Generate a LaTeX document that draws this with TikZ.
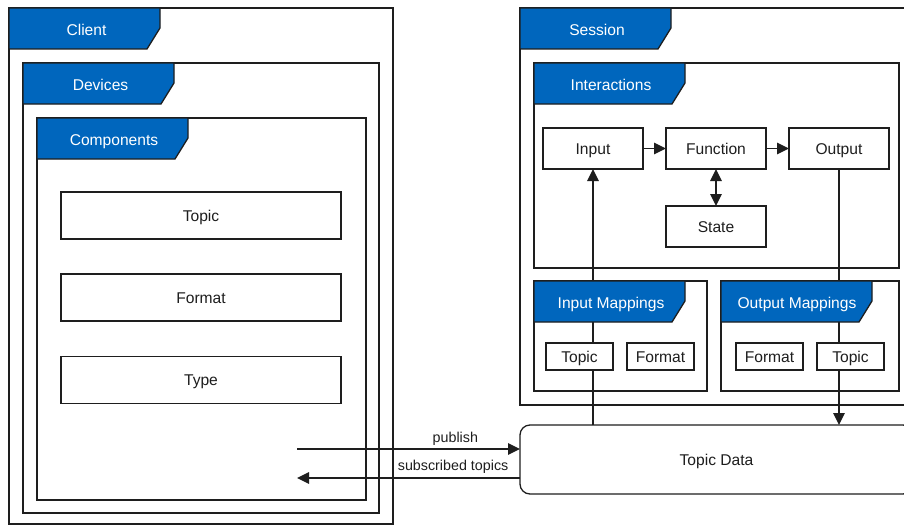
\documentclass[tikz,border=0pt]{standalone}
\usepackage{fontspec}
\setmainfont{Liberation Sans}
\usetikzlibrary{arrows.meta}
\definecolor{tabblue}{RGB}{0,102,189}
\definecolor{ink}{RGB}{30,30,30}
\tikzset{
  base/.style={draw=ink, line width=1.3pt, inner sep=0pt, outer sep=0pt},
  container/.style={base, fill=white, anchor=north west},
  frame/.style={base, anchor=north west},
  box/.style={base, fill=white, font=\fontsize{15.6}{18}\selectfont, text=ink, text height=11.2pt, text depth=0pt},
  tabshape/.style={draw=ink, line width=1.3pt, fill=tabblue},
  tablabel/.style={font=\fontsize{15.6}{18}\selectfont, text=white, inner sep=0pt, text height=11.2pt, text depth=0pt},
  conn/.style={draw=ink, line width=1.3pt},
  tip/.tip={Triangle[length=12pt,width=11.5pt]},
  arr/.style={conn, -tip},
  darr/.style={conn, tip-tip},
  lbl/.style={font=\fontsize{14.3}{16}\selectfont, text=ink, inner sep=0pt, text depth=0pt}
}
\newcommand{\mytab}[1]{\draw[tabshape] (#1.north west) -- ++(151,0) -- ++(0,20) -- ++(-13,21) -- ++(-138,0) -- cycle;}
\begin{document}
\begin{tikzpicture}[x=1pt,y=-1pt]
\useasboundingbox (0,0) rectangle (904,527);
\clip (0,0) rectangle (904,527);
\fill[white] (0,0) rectangle (904,527);

% Client side
\node[container, minimum width=384, minimum height=516] (client) at (9,8) {};
\mytab{client}
\node[tablabel] (clientlbl) at (86.5,30) {Client};
\node[container, minimum width=356, minimum height=450] (devices) at (23,63) {};
\mytab{devices}
\node[tablabel] (deviceslbl) at (100.5,85) {Devices};
\node[container, minimum width=329, minimum height=382] (components) at (37,118) {};
\mytab{components}
\node[tablabel] (componentslbl) at (114,140) {Components};
\node[box, minimum width=280, minimum height=47] (ctopic) at (201,215.5) {Topic};
\node[box, minimum width=280, minimum height=47] (cformat) at (201,297.5) {Format};
\node[box, minimum width=280, minimum height=47] (ctype) at (201,380) {Type};

% Session side
\node[container, minimum width=393, minimum height=397] (session) at (520,8) {};
\mytab{session}
\node[tablabel] (sessionlbl) at (597,30) {Session};
\node[container, minimum width=365, minimum height=205] (interactions) at (534,63) {};
\mytab{interactions}
\node[tablabel] (interactionslbl) at (611,85) {Interactions};
\node[box, minimum width=100, minimum height=41] (input) at (593,148.5) {Input};
\node[box, minimum width=100, minimum height=41] (function) at (716,148.5) {Function};
\node[box, minimum width=100, minimum height=41] (output) at (839,148.5) {Output};
\node[box, minimum width=100, minimum height=41] (state) at (716,226.5) {State};
\draw[arr] (input) -- (function);
\draw[arr] (function) -- (output);
\draw[darr] (function) -- (state);

% Topic data
\node[base, fill=white, rounded corners=10pt, anchor=north west, minimum width=393, minimum height=69] (td) at (520,425) {};
\node[font=\fontsize{15.6}{18}\selectfont, text=ink, inner sep=0pt, text height=11.2pt, text depth=0pt] (tdlbl) at (716.5,460.3) {Topic Data};

% vertical connectors (behind tabs and mapping boxes)
\draw[arr] (input.south |- td.north) -- (input.south);
\draw[arr] (output.south) -- (output.south |- td.north);

% Mappings
\node[frame, minimum width=173, minimum height=110] (inmap) at (534,281) {};
\mytab{inmap}
\node[tablabel] (inmaplbl) at (611,303) {Input Mappings};
\node[box, minimum width=67, minimum height=27] (imtopic) at (579.5,356.5) {Topic};
\node[box, minimum width=67, minimum height=27] (imformat) at (660.5,356.5) {Format};
\node[frame, minimum width=178, minimum height=110] (outmap) at (721,281) {};
\mytab{outmap}
\node[tablabel] (outmaplbl) at (797,303) {Output Mappings};
\node[box, minimum width=67, minimum height=27] (omformat) at (769.5,356.5) {Format};
\node[box, minimum width=67, minimum height=27] (omtopic) at (850.5,356.5) {Topic};

% publish / subscribe
\coordinate (pubstart) at (297,449);
\coordinate (subend) at (297,478);
\draw[arr] (pubstart) -- (pubstart -| td.west) node[lbl, pos=0.71, above=5.5pt] {publish};
\draw[arr] (subend -| td.west) -- (subend) node[lbl, pos=0.30, above=7pt] {subscribed topics};
\end{tikzpicture}
\end{document}
